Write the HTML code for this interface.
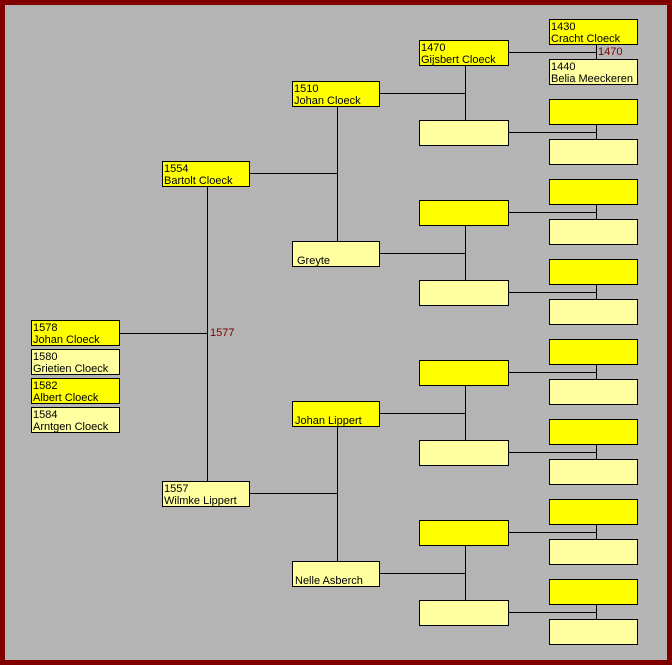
<!DOCTYPE html>
<html><head><meta charset="utf-8"><style>
html,body{margin:0;padding:0}
body{width:672px;height:665px;position:relative;overflow:hidden;background:#800000}
#bg{position:absolute;left:5px;top:5px;width:662px;height:655px;background-color:#c0c0c0;
background-image:radial-gradient(#9a9a9a 0.7px,transparent 0.8px);background-size:2px 2px}
.b{position:absolute;box-sizing:border-box;border:1px solid #000;font:11px/12px "Liberation Sans",Arial,sans-serif;color:#000;padding:1px 0 0 1px;white-space:nowrap}
.y{background:#ffff00}.l{background:#ffffa0}
.h{position:absolute;height:1px;background:#000}
.v{position:absolute;width:1px;background:#000}
.r{position:absolute;font:11px "Liberation Sans",Arial,sans-serif;color:#800000}
</style></head><body><div id="bg"></div>
<div class="b y" style="left:31px;top:320px;width:89px;height:26px">1578<br>Johan Cloeck</div>
<div class="b l" style="left:31px;top:349px;width:89px;height:26px">1580<br>Grietien Cloeck</div>
<div class="b y" style="left:31px;top:378px;width:89px;height:26px">1582<br>Albert Cloeck</div>
<div class="b l" style="left:31px;top:407px;width:89px;height:26px">1584<br>Arntgen Cloeck</div>
<div class="h" style="left:120px;top:333px;width:87px"></div>
<div class="v" style="left:207px;top:186px;height:295px"></div>
<div class="r" style="left:210px;top:327px">1577</div>
<div class="b y" style="left:162px;top:161px;width:88px;height:26px">1554<br>Bartolt Cloeck</div>
<div class="b l" style="left:162px;top:481px;width:88px;height:26px">1557<br>Wilmke Lippert</div>
<div class="h" style="left:250px;top:173px;width:87px"></div>
<div class="v" style="left:337px;top:106px;height:135px"></div>
<div class="h" style="left:250px;top:493px;width:87px"></div>
<div class="v" style="left:337px;top:426px;height:135px"></div>
<div class="b y" style="left:292px;top:81px;width:88px;height:26px">1510<br>Johan Cloeck</div>
<div class="b l" style="left:292px;top:241px;width:88px;height:26px;padding-left:4px"><br>Greyte</div>
<div class="b y" style="left:292px;top:401px;width:88px;height:26px;padding-left:2px"><br>Johan Lippert</div>
<div class="b l" style="left:292px;top:561px;width:88px;height:26px;padding-left:2px"><br>Nelle Asberch</div>
<div class="h" style="left:380px;top:93px;width:85px"></div><div class="v" style="left:465px;top:65px;height:55px"></div>
<div class="h" style="left:380px;top:253px;width:85px"></div><div class="v" style="left:465px;top:225px;height:55px"></div>
<div class="h" style="left:380px;top:413px;width:85px"></div><div class="v" style="left:465px;top:385px;height:55px"></div>
<div class="h" style="left:380px;top:573px;width:85px"></div><div class="v" style="left:465px;top:545px;height:55px"></div>
<div class="b y" style="left:419px;top:40px;width:90px;height:26px">1470<br>Gijsbert Cloeck</div>
<div class="b l" style="left:419px;top:120px;width:90px;height:26px"></div>
<div class="b y" style="left:419px;top:200px;width:90px;height:26px"></div>
<div class="b l" style="left:419px;top:280px;width:90px;height:26px"></div>
<div class="b y" style="left:419px;top:360px;width:90px;height:26px"></div>
<div class="b l" style="left:419px;top:440px;width:90px;height:26px"></div>
<div class="b y" style="left:419px;top:520px;width:90px;height:26px"></div>
<div class="b l" style="left:419px;top:600px;width:90px;height:26px"></div>
<div class="h" style="left:509px;top:52px;width:87px"></div><div class="v" style="left:596px;top:44px;height:15px"></div>
<div class="h" style="left:509px;top:132px;width:87px"></div><div class="v" style="left:596px;top:124px;height:15px"></div>
<div class="h" style="left:509px;top:212px;width:87px"></div><div class="v" style="left:596px;top:204px;height:15px"></div>
<div class="h" style="left:509px;top:292px;width:87px"></div><div class="v" style="left:596px;top:284px;height:15px"></div>
<div class="h" style="left:509px;top:372px;width:87px"></div><div class="v" style="left:596px;top:364px;height:15px"></div>
<div class="h" style="left:509px;top:452px;width:87px"></div><div class="v" style="left:596px;top:444px;height:15px"></div>
<div class="h" style="left:509px;top:532px;width:87px"></div><div class="v" style="left:596px;top:524px;height:15px"></div>
<div class="h" style="left:509px;top:612px;width:87px"></div><div class="v" style="left:596px;top:604px;height:15px"></div>
<div class="r" style="left:598px;top:46px">1470</div>
<div class="b y" style="left:549px;top:19px;width:89px;height:26px">1430<br>Cracht Cloeck</div>
<div class="b l" style="left:549px;top:59px;width:89px;height:26px">1440<br>Belia Meeckeren</div>
<div class="b y" style="left:549px;top:99px;width:89px;height:26px"></div>
<div class="b l" style="left:549px;top:139px;width:89px;height:26px"></div>
<div class="b y" style="left:549px;top:179px;width:89px;height:26px"></div>
<div class="b l" style="left:549px;top:219px;width:89px;height:26px"></div>
<div class="b y" style="left:549px;top:259px;width:89px;height:26px"></div>
<div class="b l" style="left:549px;top:299px;width:89px;height:26px"></div>
<div class="b y" style="left:549px;top:339px;width:89px;height:26px"></div>
<div class="b l" style="left:549px;top:379px;width:89px;height:26px"></div>
<div class="b y" style="left:549px;top:419px;width:89px;height:26px"></div>
<div class="b l" style="left:549px;top:459px;width:89px;height:26px"></div>
<div class="b y" style="left:549px;top:499px;width:89px;height:26px"></div>
<div class="b l" style="left:549px;top:539px;width:89px;height:26px"></div>
<div class="b y" style="left:549px;top:579px;width:89px;height:26px"></div>
<div class="b l" style="left:549px;top:619px;width:89px;height:26px"></div>
</body></html>
